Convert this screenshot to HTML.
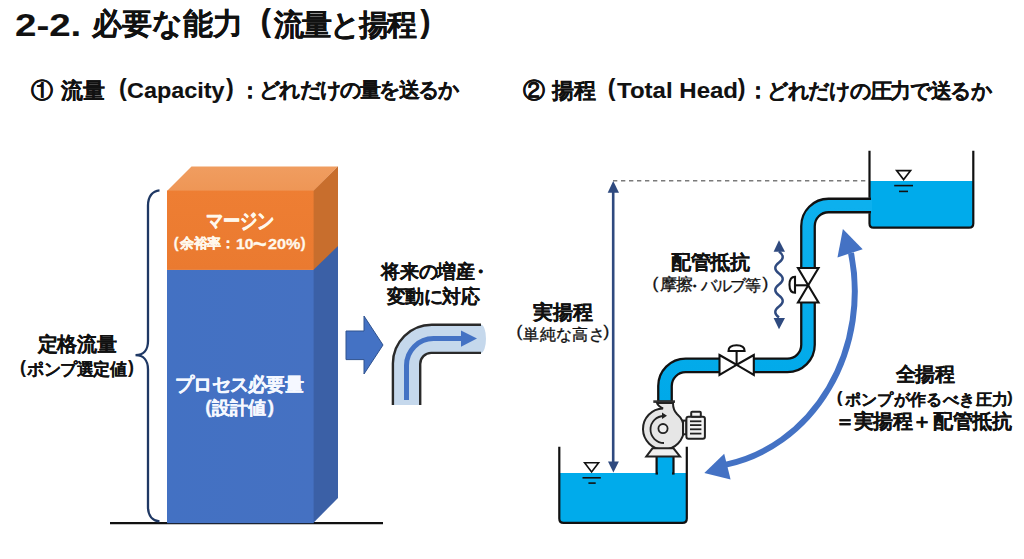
<!DOCTYPE html>
<html lang="ja">
<head>
<meta charset="utf-8">
<style>
html,body{margin:0;padding:0;background:#fff;}
body{width:1024px;height:559px;overflow:hidden;position:relative;font-family:"Liberation Sans",sans-serif;color:#111;}
.t{position:absolute;white-space:nowrap;line-height:1;}
.b{font-weight:bold;-webkit-text-stroke:0.1px #111;}
.r{-webkit-text-stroke:0.35px #111;}
svg{position:absolute;left:0;top:0;}
</style>
</head>
<body>
<svg width="1024" height="559" viewBox="0 0 1024 559">
  <defs>
    <linearGradient id="gTop" x1="0" y1="0" x2="0" y2="1">
      <stop offset="0" stop-color="#F09D60"/><stop offset="1" stop-color="#EE9656"/>
    </linearGradient>
    <linearGradient id="gOr" x1="0" y1="0" x2="0" y2="1">
      <stop offset="0" stop-color="#EE7E33"/><stop offset="1" stop-color="#EA7A30"/>
    </linearGradient>
    <linearGradient id="gBl" x1="0" y1="0" x2="1" y2="0">
      <stop offset="0" stop-color="#4371C3"/><stop offset="1" stop-color="#4571C2"/>
    </linearGradient>
    <linearGradient id="gPipe" x1="0" y1="0" x2="0" y2="1">
      <stop offset="0" stop-color="#0DB0EE"/><stop offset="1" stop-color="#00A9E9"/>
    </linearGradient>
  </defs>
  <!-- ground line -->
  <line x1="110" y1="523.2" x2="383" y2="523.2" stroke="#111" stroke-width="2.2"/>
  <!-- box -->
  <polygon points="313,190.6 338,166.4 338,498 313,523.2" fill="#3B60A6"/>
  <polygon points="313,190.6 338,166.4 338,246.1 313,270.2" fill="#C86E2D"/>
  <polygon points="167,191 191.5,166.4 338,166.4 313.4,191" fill="url(#gTop)"/>
  <rect x="167" y="269.7" width="146.6" height="253.5" fill="url(#gBl)"/>
  <rect x="167" y="190.6" width="146.6" height="79.3" fill="url(#gOr)"/>
  <!-- brace -->
  <path d="M159.5,190.3 C152.5,190.8 148,196.5 148,205.5 L148,341 C148,350 143.5,355.2 135.5,355.2 C143.5,355.2 148,360.5 148,369.5 L148,507 C148,515.5 152.5,520.8 159.5,521.3" fill="none" stroke="#1F3864" stroke-width="2.3"/>
  <!-- big block arrow -->
  <polygon points="346,331 364,331 364,316 383,345 364,374 364,359.6 346,359.6" fill="#4472C4" stroke="#2F528F" stroke-width="1"/>
  <!-- elbow pipe -->
  <path d="M392.9,405 L392.9,363.6 A38.9,38.9 0 0 1 431.8,324.7 L481,324.7 A5,14.1 0 0 1 481,352.9 L431.2,352.9 A11,11 0 0 0 420.2,363.9 L420.2,405 Z" fill="#C5D8EC"/>
  <path d="M392.9,405 L392.9,363.6 A38.9,38.9 0 0 1 431.8,324.7 L481,324.7 M481,352.9 L431.2,352.9 A11,11 0 0 0 420.2,363.9 L420.2,405" fill="none" stroke="#2a2a2a" stroke-width="2.4"/>
  <path d="M406.5,400 L406.5,365.6 A27,27 0 0 1 433.5,338.6 L463,338.6" fill="none" stroke="#4472C4" stroke-width="5"/>
  <polygon points="461,330.5 477,338.6 461,346.7" fill="#4472C4"/>

  <!-- dashed line -->
  <line x1="613" y1="180.7" x2="869" y2="180.7" stroke="#7a7a7a" stroke-width="1.4" stroke-dasharray="4.3,3.7"/>
  <!-- vertical dimension arrow -->
  <line x1="613.2" y1="190" x2="613.2" y2="465" stroke="#2F4A7F" stroke-width="2.6"/>
  <polygon points="607.7,192.8 613.2,180.9 619,192.8" fill="#2F4A7F"/>
  <polygon points="608,461.5 613.4,472.5 618.9,461.5" fill="#2F4A7F"/>

  <!-- upper tank -->
  <path d="M869.5,181 L973.3,181 L973.3,224 Q973.3,227.7 969.5,227.7 L873,227.7 Q869.5,227.7 869.5,224 Z" fill="#00ABEB"/>
  <path d="M869.5,150.7 L869.5,197.7 M869.5,213.3 L869.5,223.5 Q869.5,227.7 873.5,227.7 L969,227.7 Q973.3,227.7 973.3,223.5 L973.3,150.7" fill="none" stroke="#111" stroke-width="2.2"/>
  <!-- lower tank -->
  <path d="M559.3,473 L686.8,473 L686.8,518.5 Q686.8,522.9 682.5,522.9 L563.5,522.9 Q559.3,522.9 559.3,518.5 Z" fill="#00ABEB"/>
  <path d="M559.3,446.7 L559.3,518.5 Q559.3,522.9 563.5,522.9 L682.5,522.9 Q686.8,522.9 686.8,518.5 L686.8,446.7" fill="none" stroke="#111" stroke-width="2.2"/>
  <!-- water symbols -->
  <g stroke="#111" stroke-width="1.6" fill="#fff">
    <polygon points="896.6,170.6 910.6,170.6 903.6,179.6"/>
    <line x1="894.2" y1="185.6" x2="913" y2="185.6"/>
    <line x1="899" y1="191.4" x2="908" y2="191.4"/>
    <polygon points="584.6,462.7 598.6,462.7 591.6,472"/>
    <line x1="582.5" y1="477.8" x2="600.8" y2="477.8"/>
    <line x1="588.4" y1="483.1" x2="595.7" y2="483.1"/>
  </g>

  <!-- pipe main -->
  <path d="M665,402 L665,386 A20.6,20.6 0 0 1 685.6,365.4 L787.4,365.4 A20.6,20.6 0 0 0 808,344.8 L808,226 A20.5,20.5 0 0 1 828.5,205.5 L871,205.5" fill="none" stroke="#111" stroke-width="15.8"/>
  <path d="M665,400.5 L665,386 A20.6,20.6 0 0 1 685.6,365.4 L787.4,365.4 A20.6,20.6 0 0 0 808,344.8 L808,226 A20.5,20.5 0 0 1 828.5,205.5 L872,205.5" fill="none" stroke="url(#gPipe)" stroke-width="11.2"/>
  <!-- suction pipe -->
  <rect x="656.6" y="455" width="16.9" height="18.5" fill="#00ABEB" stroke="#111" stroke-width="2.2"/>
  <rect x="658" y="460" width="14" height="16" fill="#00ABEB"/>

  <!-- valve 1 -->
  <g stroke="#111" stroke-width="2.1" fill="#fff" stroke-linejoin="miter">
    <rect x="720.5" y="352" width="32.4" height="26" fill="#fff" stroke="none"/>
    <polygon points="719.5,355 736.6,364.8 719.5,375 "/>
    <polygon points="753.8,355 736.6,364.8 753.8,375"/>
    <line x1="736.6" y1="364.8" x2="736.6" y2="350.5"/>
    <path d="M728.5,351 Q728.5,345.3 736.6,345.3 Q744.6,345.3 744.6,351 Z"/>
  </g>
  <!-- valve 2 -->
  <g stroke="#111" stroke-width="2.1" fill="#fff">
    <rect x="794" y="269" width="28" height="32.6" fill="#fff" stroke="none"/>
    <polygon points="798,268 818.5,268 808.2,285.3"/>
    <polygon points="798,302.5 818.5,302.5 808.2,285.3"/>
    <line x1="808.2" y1="285.3" x2="794.5" y2="285.3"/>
    <path d="M795,276.8 Q789.5,276.8 789.5,284.8 Q789.5,292.8 795,292.8 Z"/>
  </g>

  <!-- wavy arrow -->
  <path d="M779,251.5 q7.5,5.5 0,11 t0,11 t0,11 t0,11 t0,11 t0,11" fill="none" stroke="#2F4A7F" stroke-width="2.4"/>
  <polygon points="773.6,251.8 779,240.3 785,251.8" fill="#2F4A7F"/>
  <polygon points="773.6,317.9 779,329.3 785,317.9" fill="#2F4A7F"/>

  <!-- pump -->
  <g stroke="#222" stroke-width="2" fill="#E6E6E6">
    <rect x="653.3" y="400.3" width="21.7" height="2.6" fill="#333" stroke="none"/>
    <path d="M657,403 L673,403 Q673,410 677,414 Q684,420 684,429 A20.5,20.5 0 1 1 663,408.5 Q658,406 657,403 Z"/>
    <rect x="683" y="420.6" width="3.4" height="13.7"/>
    <rect x="686.4" y="416.8" width="18.5" height="22" rx="2" fill="#F2F2F2"/>
    <rect x="691.2" y="411.7" width="9.6" height="5.1" rx="1" fill="#F2F2F2"/>
    <polygon points="652.5,448.3 673.5,448.3 680,456.5 646.3,456.5" fill="#F0F0F0"/>
  </g>
  <g stroke="#222" stroke-width="1.8" fill="none">
    <path d="M664,443 A13,13 0 1 1 664,416"/>
    <circle cx="663" cy="428.6" r="4.6" fill="#EEEEEE"/>
    <line x1="690" y1="421.3" x2="701.4" y2="421.3"/>
    <line x1="690" y1="425.1" x2="701.4" y2="425.1"/>
    <line x1="690" y1="429.3" x2="701.4" y2="429.3"/>
    <line x1="690" y1="433.6" x2="701.4" y2="433.6"/>
  </g>
  <polygon points="662,412.5 667,415.8 662,419" fill="#222"/>

  <!-- big arc arrow -->
  <path d="M726,464.6 A158.4,176.3 0 0 0 851,253" fill="none" stroke="#4472C4" stroke-width="6"/>
  <polygon points="842.9,228.9 862.7,249.3 837.5,257.4" fill="#4472C4"/>
  <polygon points="704.3,473 724.2,453.8 730.6,479.6" fill="#4472C4"/>
</svg>
<!--TEXTS-->
<div class="t b" style="left:14.6px;top:9.1px;font-size:32px;transform:scaleX(1.202);transform-origin:0 0;">2-2.</div>
<div class="t b" style="left:91.7px;top:9.3px;font-size:30.1px;letter-spacing:0.12px;">必要な能力</div>
<div class="t b" style="left:260.6px;top:5.4px;font-size:31.6px;">(</div>
<div class="t b" style="left:273.7px;top:9.6px;font-size:29.5px;letter-spacing:-1.92px;">流量と揚程</div>
<div class="t b" style="left:420.3px;top:5.8px;font-size:31.0px;">)</div>
<div class="t b" style="left:31.2px;top:79.8px;font-size:22px;">①</div>
<div class="t b" style="left:60.9px;top:79.7px;font-size:22.2px;letter-spacing:0.3px;">流量</div>
<div class="t b" style="left:119px;top:76.9px;font-size:23.1px;">(</div>
<div class="t b" style="left:126.6px;top:79.7px;font-size:22px;transform:scaleX(1.063);transform-origin:0 0;">Capacity</div>
<div class="t b" style="left:226px;top:76.9px;font-size:23.1px;">)</div>
<div class="t b" style="left:238.7px;top:79.8px;font-size:22px;">：</div>
<div class="t b" style="left:259.3px;top:80.4px;font-size:20.8px;letter-spacing:-1.87px;">どれだけの量を送るか</div>
<div class="t b" style="left:522.5px;top:79.6px;font-size:22px;">②</div>
<div class="t b" style="left:552.2px;top:79.7px;font-size:21.8px;letter-spacing:-0.2px;">揚程</div>
<div class="t b" style="left:607.8px;top:76.8px;font-size:23.1px;">(</div>
<div class="t b" style="left:616.6px;top:79.7px;font-size:22px;transform:scaleX(1.092);transform-origin:0 0;">Total Head</div>
<div class="t b" style="left:737.7px;top:76.8px;font-size:23.1px;">)</div>
<div class="t b" style="left:747.2px;top:79.6px;font-size:22px;">：</div>
<div class="t b" style="left:767px;top:80.1px;font-size:21px;letter-spacing:-1.3px;">どれだけの圧力で送るか</div>
<div class="t b" style="left:37.8px;top:335.2px;font-size:19.8px;letter-spacing:-0.3px;">定格流量</div>
<div class="t b" style="left:20.1px;top:358.5px;font-size:17.9px;">(</div>
<div class="t b" style="left:27.2px;top:360.7px;font-size:17px;letter-spacing:-0.5px;">ポンプ選定値</div>
<div class="t b" style="left:128px;top:358.5px;font-size:17.9px;">)</div>
<div class="t b" style="left:205.9px;top:213.1px;font-size:17.2px;letter-spacing:0.13px;transform:scaleY(1.22);transform-origin:0 8.43px;color:#FFF8EC;-webkit-text-stroke:0.3px #FFF8EC;">マージン</div>
<div class="t b" style="left:173.8px;top:236.0px;font-size:14.4px;color:#FFF8EC;-webkit-text-stroke:0.3px #FFF8EC;">(</div>
<div class="t b" style="left:180.3px;top:236.6px;font-size:13.7px;letter-spacing:-0.5px;color:#FFF8EC;-webkit-text-stroke:0.3px #FFF8EC;">余裕率</div>
<div class="t b" style="left:220.7px;top:236.6px;font-size:13.7px;color:#FFF8EC;-webkit-text-stroke:0.3px #FFF8EC;">：</div>
<div class="t b" style="left:235.6px;top:235.8px;font-size:15px;transform:scaleX(1.047);transform-origin:0 0;color:#FFF8EC;-webkit-text-stroke:0.3px #FFF8EC;">10</div>
<div class="t b" style="left:252.8px;top:232.0px;font-size:24px;color:#FFF8EC;-webkit-text-stroke:0.3px #FFF8EC;">~</div>
<div class="t b" style="left:267.9px;top:235.8px;font-size:15px;transform:scaleX(1.08);transform-origin:0 0;color:#FFF8EC;-webkit-text-stroke:0.3px #FFF8EC;">20%</div>
<div class="t b" style="left:300.7px;top:236.0px;font-size:14.4px;color:#FFF8EC;-webkit-text-stroke:0.3px #FFF8EC;">)</div>
<div class="t b" style="left:175.2px;top:376.4px;font-size:18.6px;letter-spacing:-0.78px;color:#F5F8FF;-webkit-text-stroke:0.3px #F5F8FF;">プロセス必要量</div>
<div class="t b" style="left:205.2px;top:398.0px;font-size:18.9px;color:#F5F8FF;-webkit-text-stroke:0.3px #F5F8FF;">(</div>
<div class="t b" style="left:212.4px;top:400.4px;font-size:17.9px;letter-spacing:-0.35px;color:#F5F8FF;-webkit-text-stroke:0.3px #F5F8FF;">設計値</div>
<div class="t b" style="left:267.8px;top:398.0px;font-size:18.9px;color:#F5F8FF;-webkit-text-stroke:0.3px #F5F8FF;">)</div>
<div class="t b" style="left:381.2px;top:262.6px;font-size:18.9px;letter-spacing:-0.25px;">将来の増産</div>
<div class="t b" style="left:471.2px;top:262.6px;font-size:18.9px;">・</div>
<div class="t b" style="left:386.5px;top:288.0px;font-size:18.7px;letter-spacing:-0.42px;">変動に対応</div>
<div class="t b" style="left:532.8px;top:301.6px;font-size:20px;letter-spacing:-0.1px;">実揚程</div>
<div class="t r" style="left:516.5px;top:323.3px;font-size:17.3px;">(</div>
<div class="t r" style="left:523.4px;top:325.5px;font-size:16.4px;letter-spacing:0.35px;">単純な高さ</div>
<div class="t r" style="left:603.5px;top:323.3px;font-size:17.3px;">)</div>
<div class="t b" style="left:670.8px;top:252.7px;font-size:19.9px;letter-spacing:-0.27px;">配管抵抗</div>
<div class="t r" style="left:652.4px;top:275.4px;font-size:17.3px;">(</div>
<div class="t r" style="left:659.5px;top:277.4px;font-size:16.8px;letter-spacing:-0.3px;">摩擦</div>
<div class="t r" style="left:686.4px;top:277.5px;font-size:16.5px;">・</div>
<div class="t r" style="left:701.3px;top:278.0px;font-size:15.6px;letter-spacing:-1.57px;">バルブ等</div>
<div class="t r" style="left:762.4px;top:275.4px;font-size:17.3px;">)</div>
<div class="t b" style="left:895.8px;top:364.6px;font-size:19.7px;letter-spacing:-0.5px;">全揚程</div>
<div class="t b" style="left:836.8px;top:388.5px;font-size:17.3px;">(</div>
<div class="t b" style="left:844.6px;top:390.7px;font-size:16.4px;letter-spacing:0.37px;">ポンプが作るべき圧力</div>
<div class="t b" style="left:1006.9px;top:388.5px;font-size:17.3px;">)</div>
<div class="t b" style="left:835.3px;top:412.4px;font-size:19.8px;">＝</div>
<div class="t b" style="left:853.9px;top:412.4px;font-size:19.8px;letter-spacing:-0.45px;">実揚程</div>
<div class="t b" style="left:912px;top:412.4px;font-size:19.8px;">＋</div>
<div class="t b" style="left:933.2px;top:412.4px;font-size:19.8px;letter-spacing:-0.47px;">配管抵抗</div>
<!--/TEXTS-->
</body>
</html>
